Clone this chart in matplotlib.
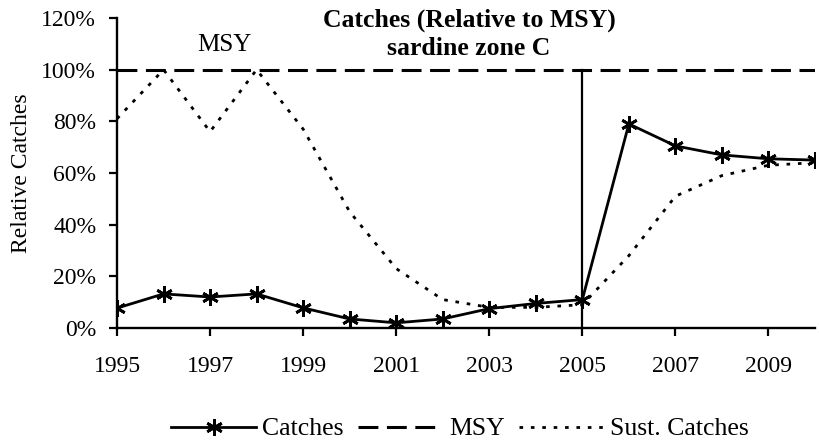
import matplotlib
matplotlib.use("Agg")
import matplotlib.pyplot as plt

# ------------------------------------------------------------
# Data
years = list(range(1995, 2011))
catches = [7.7, 13.2, 12.0, 13.2, 7.8, 3.5, 2.0, 3.5, 7.5, 9.5, 11.0,
           79.0, 70.5, 67.0, 65.5, 65.0]
sust_catches = [81.0, 100.0, 76.0, 100.0, 77.0, 45.0, 23.0, 11.0, 8.0, 8.0, 9.0,
                28.0, 51.0, 59.0, 63.0, 64.0]
msy = [100.0] * len(years)
split_year = 2005
xticks = list(range(1995, 2010, 2))
yticks = [0, 20, 40, 60, 80, 100, 120]

plt.rcParams['font.family'] = ['Liberation Serif', 'DejaVu Serif']
fs = 17
fs_big = 18.5

fig = plt.figure(figsize=(8.19, 4.46), dpi=100)
ax = fig.add_axes([117/819, 1 - 328/446, (815-117)/819, (328-18)/446])

ax.plot(years, catches, color='black', lw=2.0, marker=(6, 2, 0), ms=12,
        mew=2.0, label='Catches', zorder=4)
ax.plot(years, msy, color='black', lw=2.2, ls=(0, (6.5, 2.8)), label='MSY')
ax.plot(years, sust_catches, color='black', lw=2.0, ls=(0, (1.3, 2.8)),
        label='Sust. Catches')
ax.plot([split_year, split_year], [0, 100], color='black', lw=1.6)

ax.set_xlim(1995, 2010)
ax.set_ylim(0, 120)
ax.set_xticks(xticks)
ax.set_yticks(yticks)
ax.set_yticklabels([f"{v}%" for v in yticks])
ax.tick_params(labelsize=fs, direction='out', length=6, width=1.6, color='black')
ax.tick_params(axis='y', pad=9)
ax.tick_params(axis='x', pad=14)
ax.spines['top'].set_visible(False)
ax.spines['right'].set_visible(False)
ax.spines['left'].set_linewidth(1.7)
ax.spines['bottom'].set_linewidth(1.7)
ax.set_ylabel('Relative Catches', fontsize=fs, labelpad=7)

# Title, two lines placed by baseline
fig.text(469/819, 1 - 27/446, 'Catches (Relative to MSY)',
         ha='center', va='baseline', fontsize=fs_big, fontweight='bold')
fig.text(469/819, 1 - 55/446, 'sardine zone C',
         ha='center', va='baseline', fontsize=fs_big, fontweight='bold')
ax.text(1997.3, 109.5, 'MSY', ha='center', va='center', fontsize=18)

fig.legend(loc='center', bbox_to_anchor=(460/819, 1 - 429/446), ncol=3,
           frameon=False, fontsize=fs_big, handlelength=3.3, handletextpad=0.25,
           columnspacing=0.55)

fig.savefig('out.png', dpi=100)
